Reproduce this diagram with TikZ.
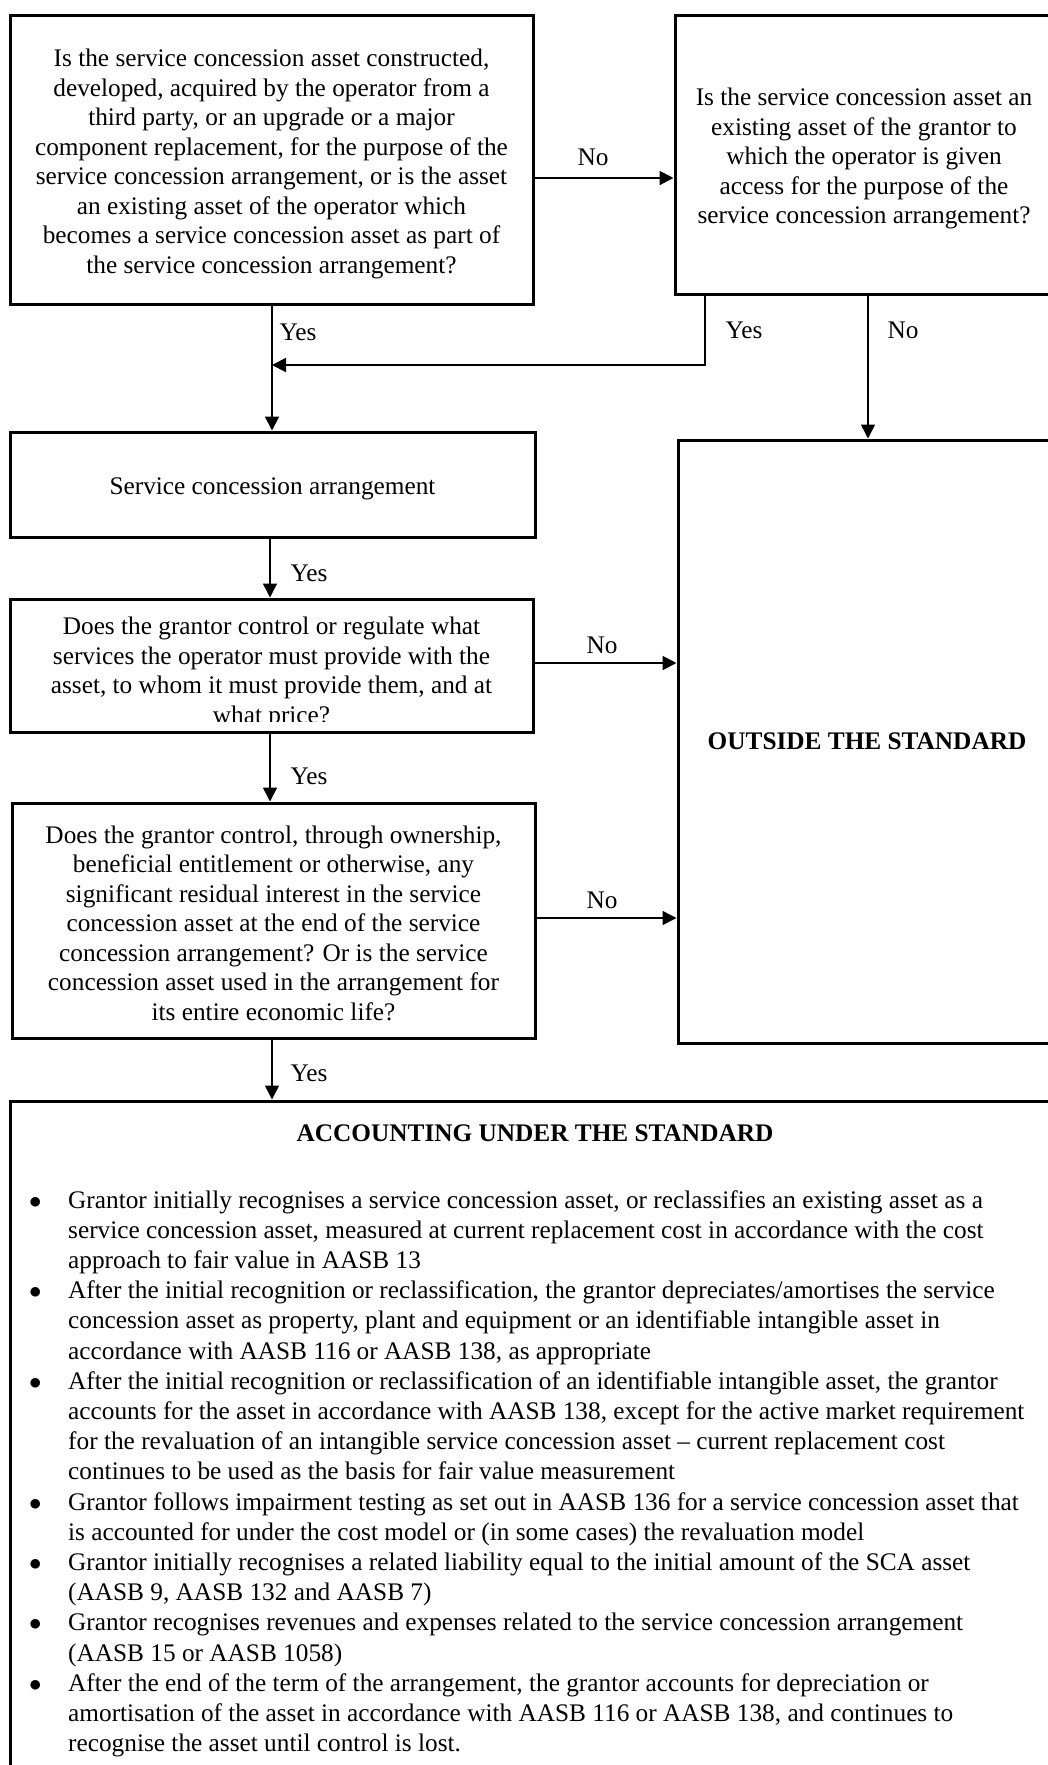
\documentclass[tikz,border=0pt]{standalone}
\usepackage{fontspec}
\setmainfont{Liberation Serif}
\usetikzlibrary{arrows.meta,calc}
\begin{document}
\begin{tikzpicture}[x=1pt,y=1pt,
  box/.style={draw, line width=3pt, rectangle, inner sep=0pt},
  arr/.style={line width=2pt, -{Triangle[length=14pt,width=14pt]}},
  thinarr/.style={line width=1.5pt, -{Triangle[length=14pt,width=14pt]}},
  lbl/.style={font=\fontsize{25.3}{29.5}\selectfont, anchor=base, inner sep=0pt},
  bodytext/.style={font=\fontsize{25.3}{29.5}\selectfont, inner sep=0pt, align=center}
]
\useasboundingbox (0,0) rectangle (1048,-1765);
\clip (0,0) rectangle (1048,-1765);

% boxes
\node[box, minimum width=523, minimum height=289] (B1) at (271.5,-159.5) {};
\node[bodytext] (B1t) at (271.5,-164)
 {Is the service concession asset constructed,\\
  developed, acquired by the operator from a\\
  third party, or an upgrade or a major\\
  component replacement, for the purpose of the\\
  service concession arrangement, or is the asset\\
  an existing asset of the operator which\\
  becomes a service concession asset as part of\\
  the service concession arrangement?};

\node[box, minimum width=378, minimum height=279] (B2) at (864,-154.5) {};
\node[bodytext] (B2t) at (864,-158.5)
 {Is the service concession asset an\\
  existing asset of the grantor to\\
  which the operator is given\\
  access for the purpose of the\\
  service concession arrangement?};

\node[box, minimum width=378, minimum height=603] (OUT) at (867,-741.5) {};
\node[bodytext] (OUTt) at (867,-741.5) {\bfseries OUTSIDE THE STANDARD};

\node[box, minimum width=525, minimum height=105] (B3) at (272.5,-484.5) {};
\node[bodytext] (B3t) at (272.5,-489) {Service concession arrangement};

\node[box, minimum width=523, minimum height=133] (B4) at (271.5,-665.5) {};
\begin{scope}
\clip (10,-599) rectangle (533,-721);
\node[bodytext] (B4t) at (271.5,-673)
 {Does the grantor control or regulate what\\
  services the operator must provide with the\\
  asset, to whom it must provide them, and at\\
  what price?};
\end{scope}

\node[box, minimum width=523, minimum height=235] (B5) at (273.5,-920.5) {};
\node[bodytext] (B5t) at (273.5,-923)
 {Does the grantor control, through ownership,\\
  beneficial entitlement or otherwise, any\\
  significant residual interest in the service\\
  concession asset at the end of the service\\
  concession arrangement? Or is the service\\
  concession asset used in the arrangement for\\
  its entire economic life?};

\node[box, minimum width=1050, minimum height=689] (B6) at (535,-1445.5) {};
\node[lbl] (B6title) at (535,-1141) {\bfseries ACCOUNTING UNDER THE STANDARD};
\node[anchor=base west, inner sep=0pt, font=\fontsize{25.3}{30.2}\selectfont] (B6list) at (29,-1208)
 {\begin{tabular}[t]{@{}p{39pt}@{}l@{}}
  $\bullet$ & Grantor initially recognises a service concession asset, or reclassifies an existing asset as a\\
   & service concession asset, measured at current replacement cost in accordance with the cost\\
   & approach to fair value in AASB 13\\
  $\bullet$ & After the initial recognition or reclassification, the grantor depreciates/amortises the service\\
   & concession asset as property, plant and equipment or an identifiable intangible asset in\\
   & accordance with AASB 116 or AASB 138, as appropriate\\
  $\bullet$ & After the initial recognition or reclassification of an identifiable intangible asset, the grantor\\
   & accounts for the asset in accordance with AASB 138, except for the active market requirement\\
   & for the revaluation of an intangible service concession asset – current replacement cost\\
   & continues to be used as the basis for fair value measurement\\
  $\bullet$ & Grantor follows impairment testing as set out in AASB 136 for a service concession asset that\\
   & is accounted for under the cost model or (in some cases) the revaluation model\\
  $\bullet$ & Grantor initially recognises a related liability equal to the initial amount of the SCA asset\\
   & (AASB 9, AASB 132 and AASB 7)\\
  $\bullet$ & Grantor recognises revenues and expenses related to the service concession arrangement\\
   & (AASB 15 or AASB 1058)\\
  $\bullet$ & After the end of the term of the arrangement, the grantor accounts for depreciation or\\
   & amortisation of the asset in accordance with AASB 116 or AASB 138, and continues to\\
   & recognise the asset until control is lost.
 \end{tabular}};

% helper coordinates
\coordinate (y178) at (0,-178);
\coordinate (y663) at (0,-663);
\coordinate (y918) at (0,-918);
\coordinate (x272) at (272,0);
\coordinate (x270) at (270,0);
\coordinate (x705) at (705,0);
\coordinate (x868) at (868,0);
\coordinate (merge) at (272,-365);

% connectors
\draw[arr] (B1.east |- y178) -- (B2.west |- y178);
\node[lbl] (lNo1) at (593,-165) {No};

\draw[arr] (B1.south -| x272) -- (B3.north -| x272);
\node[lbl] (lYes1) at (298,-340) {Yes};

\draw[arr] (B2.south -| x705) |- (merge);
\node[lbl] (lYes2) at (744,-338) {Yes};

\draw[thinarr] (B2.south -| x868) -- (OUT.north -| x868);
\node[lbl] (lNo2) at (903,-338) {No};

\draw[thinarr] (B3.south -| x270) -- (B4.north -| x270);
\node[lbl] (lYes3) at (309,-581) {Yes};

\draw[arr] (B4.east |- y663) -- (OUT.west |- y663);
\node[lbl] (lNo3) at (602,-653) {No};

\draw[thinarr] (B4.south -| x270) -- (B5.north -| x270);
\node[lbl] (lYes4) at (309,-784) {Yes};

\draw[thinarr] (B5.east |- y918) -- (OUT.west |- y918);
\node[lbl] (lNo4) at (602,-908) {No};

\draw[thinarr] (B5.south -| x272) -- (B6.north -| x272);
\node[lbl] (lYes5) at (309,-1081) {Yes};
\end{tikzpicture}
\end{document}
